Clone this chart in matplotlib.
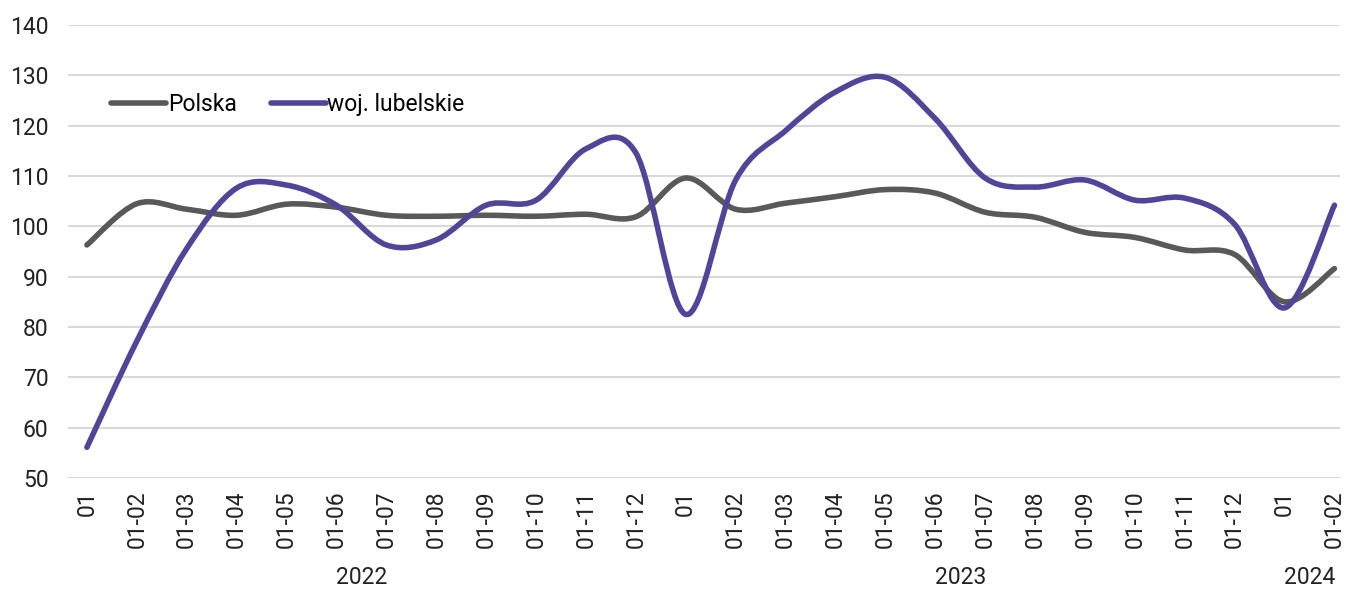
import numpy as np
import matplotlib
matplotlib.use("Agg")
from matplotlib import pyplot as plt
from matplotlib.path import Path
from matplotlib.patches import PathPatch
from matplotlib.lines import Line2D

plt.rcParams['font.family'] = ['Roboto', 'DejaVu Sans']

months = ['01', '01-02', '01-03', '01-04', '01-05', '01-06', '01-07', '01-08',
          '01-09', '01-10', '01-11', '01-12',
          '01', '01-02', '01-03', '01-04', '01-05', '01-06', '01-07', '01-08',
          '01-09', '01-10', '01-11', '01-12',
          '01', '01-02']
years = ['2022', '2023', '2024']
year_span = [(0, 11), (12, 23), (24, 25)]

polska = [96.3, 104.5, 103.4, 102.2, 104.4, 103.8, 102.2, 102.0, 102.2, 102.0,
          102.4, 101.9, 109.6, 103.4, 104.6, 105.9, 107.3, 106.6, 102.8, 101.8,
          98.8, 97.8, 95.3, 94.4, 85.0, 91.6]
lubelskie = [56.1, 77.2, 95.6, 107.6, 108.2, 104.2, 96.3, 97.3, 104.2, 105.2,
             115.4, 114.6, 82.5, 109.2, 119.0, 126.7, 129.6, 121.4, 109.6, 107.8,
             109.2, 105.2, 105.6, 100.4, 83.8, 104.2]

labels = ['Polska', 'woj. lubelskie']
colors = ['#595959', '#514599']


def smooth_path(x, y):
    # excel-like smoothing: catmull-rom as cubic bezier segments
    pts = np.column_stack([x, y]).astype(float)
    n = len(pts)
    verts = [pts[0]]
    codes = [Path.MOVETO]
    for i in range(n - 1):
        p0 = pts[i - 1] if i > 0 else pts[i]
        p1 = pts[i]
        p2 = pts[i + 1]
        p3 = pts[i + 2] if i + 2 < n else pts[i + 1]
        c1 = p1 + (p2 - p0) / 6.0
        c2 = p2 - (p3 - p1) / 6.0
        verts += [c1, c2, p2]
        codes += [Path.CURVE4] * 3
    return Path(verts, codes)


fig = plt.figure(figsize=(13.46, 5.91), dpi=100)
ax = fig.add_axes([0.0505, 0.1912, 0.945, 0.7665])

x = np.arange(len(months))
for vals, c in zip([polska, lubelskie], colors):
    ax.add_patch(PathPatch(smooth_path(x, vals), facecolor='none', edgecolor=c,
                           lw=4, capstyle='round', joinstyle='round', zorder=3))

ax.set_xlim(-0.38, 25.11)
ax.set_ylim(50, 140)
ax.set_yticks(range(50, 141, 10))
ax.set_xticks(x)
ax.set_xticklabels(months, rotation=90)
ax.tick_params(axis='both', length=0, labelsize=16.5, colors='#222222')
ax.tick_params(axis='x', pad=9)
ax.tick_params(axis='y', pad=14)
ax.grid(axis='y', color='#d9d9d9', lw=1.5)
ax.set_axisbelow(True)
for s in ax.spines.values():
    s.set_visible(False)

for yr, (a, b) in zip(years, year_span):
    ax.text((a + b) / 2, -0.22, yr, transform=ax.get_xaxis_transform(),
            ha='center', va='center', fontsize=16.5, color='#222222')

handles = [Line2D([], [], color=c, lw=4, solid_capstyle='round') for c in colors]
ax.legend(handles, labels, loc='upper left', bbox_to_anchor=(0.027, 0.87),
          ncol=2, frameon=False, fontsize=16.5, handlelength=2.4,
          handletextpad=0.05, columnspacing=1.5, borderaxespad=0)

fig.savefig('out.png', dpi=100, facecolor='white')
